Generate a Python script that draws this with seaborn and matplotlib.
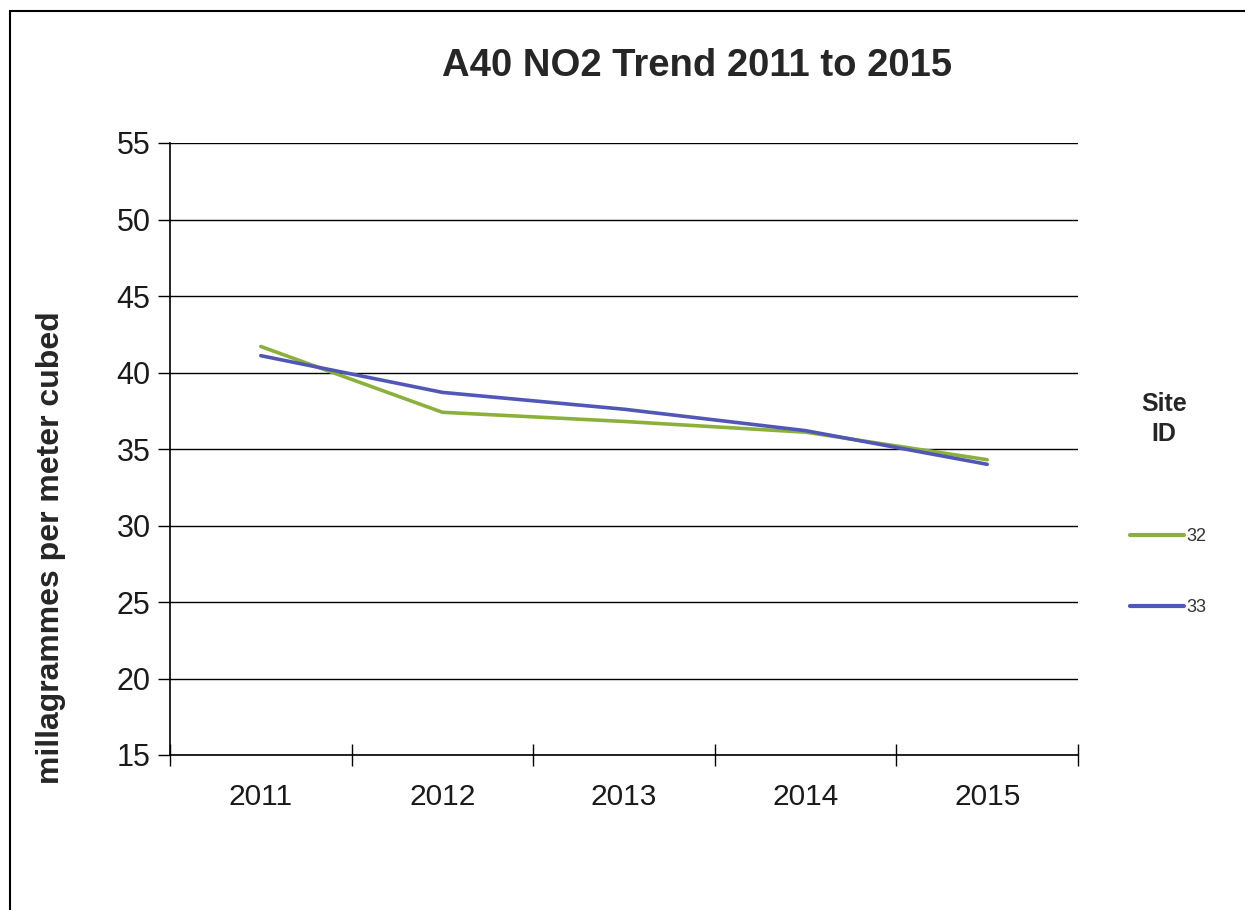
import pandas as pd
import seaborn as sns
import matplotlib.pyplot as plt
from matplotlib.patches import Rectangle
from matplotlib.lines import Line2D

years = [2011, 2012, 2013, 2014, 2015]
site_32 = [41.7, 37.4, 36.8, 36.1, 34.3]
site_33 = [41.1, 38.7, 37.6, 36.2, 34.0]
site_ids = ['32', '33']
colors = {'32': '#8BB13C', '33': '#5157B4'}

df = pd.DataFrame({
    'year': years * 2,
    'value': site_32 + site_33,
    'site': ['32'] * len(years) + ['33'] * len(years),
})

sns.set_style("white")
plt.rcParams['font.family'] = ['Liberation Sans', 'DejaVu Sans']

fig = plt.figure(figsize=(12.45, 9.1), dpi=100)
ax = fig.add_axes([170 / 1245, 1 - 755 / 910, (1078 - 170) / 1245, (755 - 143) / 910])

sns.lineplot(data=df, x='year', y='value', hue='site', palette=colors,
             linewidth=2.6, ax=ax, legend=False)

# axis ranges / ticks (Excel style categories)
ax.set_ylim(15, 55)
ax.set_yticks(range(15, 56, 5))
ax.set_xlim(2010.5, 2015.5)
ax.set_xticks(years)
ax.set_xticklabels([str(y) for y in years])
ax.set_xticks([y - 0.5 for y in years] + [2015.5], minor=True)
ax.tick_params(axis='x', which='major', bottom=True, length=0, pad=20, labelsize=21.5,
               labelcolor='#1a1a1a')
ax.tick_params(axis='x', which='minor', bottom=True, length=16, width=1,
               direction='inout', color='black')
ax.tick_params(axis='y', which='major', left=True, length=9, width=1, direction='out',
               pad=5, labelsize=22, color='black', labelcolor='#1a1a1a')

ax.grid(axis='y', color='black', linewidth=1)
ax.grid(axis='x', visible=False)
for s in ['top', 'right']:
    ax.spines[s].set_visible(False)
for s in ['left', 'bottom']:
    ax.spines[s].set_color('black')
    ax.spines[s].set_linewidth(1.2)

ax.set_xlabel('')
ax.set_ylabel('millagrammes per meter cubed', fontsize=23, fontweight='bold')
ax.yaxis.set_label_coords(-0.115, 0.338)

fig.text(697 / 1245, 1 - 66 / 910, 'A40 NO2 Trend 2011 to 2015', ha='center', va='center',
         fontsize=27.5, fontweight='bold')

# legend
handles = [Line2D([0], [0], color=colors[s], linewidth=3) for s in site_ids]
leg = fig.legend(handles, site_ids, loc='center left',
                 bbox_to_anchor=(1114 / 1245, 1 - 572 / 910), frameon=False,
                 fontsize=13, labelspacing=3.0, handlelength=3.0, handletextpad=0.1)
for t in leg.get_texts():
    t.set_color('#333333')
fig.text(1164 / 1245, 1 - 419 / 910, 'Site\nID', ha='center', va='center',
         fontsize=18, fontweight='bold', linespacing=1.35)

# outer chart border
fig.patches.append(Rectangle((10 / 1245, -0.1), 1.2, 1 - 11 / 910 + 0.1,
                             transform=fig.transFigure, fill=False,
                             edgecolor='black', linewidth=1.5))

fig.savefig('out.png', dpi=100)
